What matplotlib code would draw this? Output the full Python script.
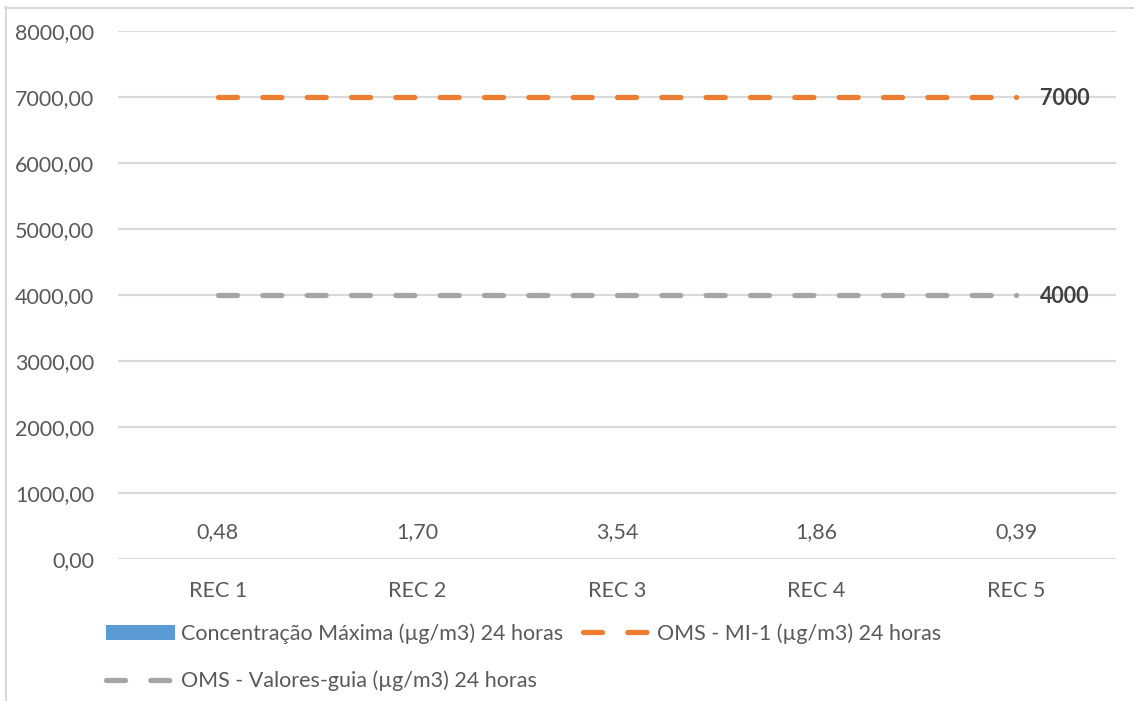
import matplotlib.pyplot as plt
from matplotlib.lines import Line2D
from matplotlib.patches import Patch
from matplotlib.ticker import FuncFormatter, MultipleLocator

CATEGORIES = ["REC 1", "REC 2", "REC 3", "REC 4", "REC 5"]
CONC_MAX = [0.48, 1.70, 3.54, 1.86, 0.39]
OMS_MI1 = [7000, 7000, 7000, 7000, 7000]
OMS_GUIA = [4000, 4000, 4000, 4000, 4000]

LBL_CONC = "Concentração Máxima (µg/m3) 24 horas"
LBL_MI1 = "OMS - MI-1 (µg/m3) 24 horas"
LBL_GUIA = "OMS - Valores-guia (µg/m3) 24 horas"

BLUE = "#5B9BD5"
ORANGE = "#ED7D31"
GRAY = "#A5A5A5"
GRID = "#D9D9D9"
TEXT = "#595959"
DARK = "#404040"
FS = 15.5
LW = 3.8

plt.rcParams["font.family"] = ["Lato", "DejaVu Sans"]
plt.rcParams["font.size"] = FS

W, H = 1134, 701
fig = plt.figure(figsize=(W / 100, H / 100), dpi=100)
ax = fig.add_axes([118 / W, 1 - 559 / H, (1116 - 118) / W, (559 - 31) / H])

x = list(range(len(CATEGORIES)))

# chart-area frame (only left and top edges visible in the crop)
fig.add_artist(Line2D([5.5 / W, 5.5 / W], [0, 1 - 7 / H], color=GRID, lw=1.5))
fig.add_artist(Line2D([5 / W, 1], [1 - 7.5 / H, 1 - 7.5 / H], color=GRID, lw=1.5))

ax.bar(x, CONC_MAX, width=0.6, color=BLUE, zorder=2)
for xi, v in zip(x, CONC_MAX):
    ax.annotate(f"{v:.2f}".replace(".", ","), (xi, v), xytext=(0, 19),
                textcoords="offset points", ha="center", va="center",
                color=TEXT, fontsize=FS)

dash = (0, (3.6, 4.8))
ax.plot(x, OMS_MI1, color=ORANGE, lw=LW, linestyle=dash,
        dash_capstyle="round", zorder=3)
ax.plot(x, OMS_GUIA, color=GRAY, lw=LW, linestyle=dash,
        dash_capstyle="round", zorder=3)
for series in (OMS_MI1, OMS_GUIA):
    ax.annotate(f"{series[-1]}", (x[-1], series[-1]), xytext=(17, -1),
                textcoords="offset points", ha="left", va="center",
                color=DARK, fontsize=FS, fontweight="bold")

ax.set_xlim(-0.5, len(CATEGORIES) - 0.5)
ax.set_ylim(0, 8000)
ax.yaxis.set_major_locator(MultipleLocator(1000))
ax.yaxis.set_major_formatter(FuncFormatter(lambda v, p: f"{v:.2f}".replace(".", ",")))
ax.set_xticks(x)
ax.set_xticklabels(CATEGORIES)
ax.tick_params(axis="both", length=0, colors=TEXT, labelsize=FS)
ax.tick_params(axis="y", pad=17)
ax.tick_params(axis="x", pad=16)
ax.grid(axis="y", color=GRID, lw=1.5, zorder=0)
ax.set_axisbelow(True)
for s in ax.spines.values():
    s.set_visible(False)

handles = [
    Patch(facecolor=BLUE, edgecolor="none"),
    Line2D([], [], color=GRAY, lw=LW, linestyle=dash, dash_capstyle="round"),
    Line2D([], [], color=ORANGE, lw=LW, linestyle=dash, dash_capstyle="round"),
]
fig.legend(handles, [LBL_CONC, LBL_GUIA, LBL_MI1], ncol=2, loc="upper left",
           bbox_to_anchor=(87 / W, 1 - 604 / H), frameon=False,
           handlelength=3.2, handletextpad=0.25, columnspacing=0.95,
           labelspacing=1.25, labelcolor=TEXT, fontsize=FS)

fig.savefig("out.png", dpi=100)
